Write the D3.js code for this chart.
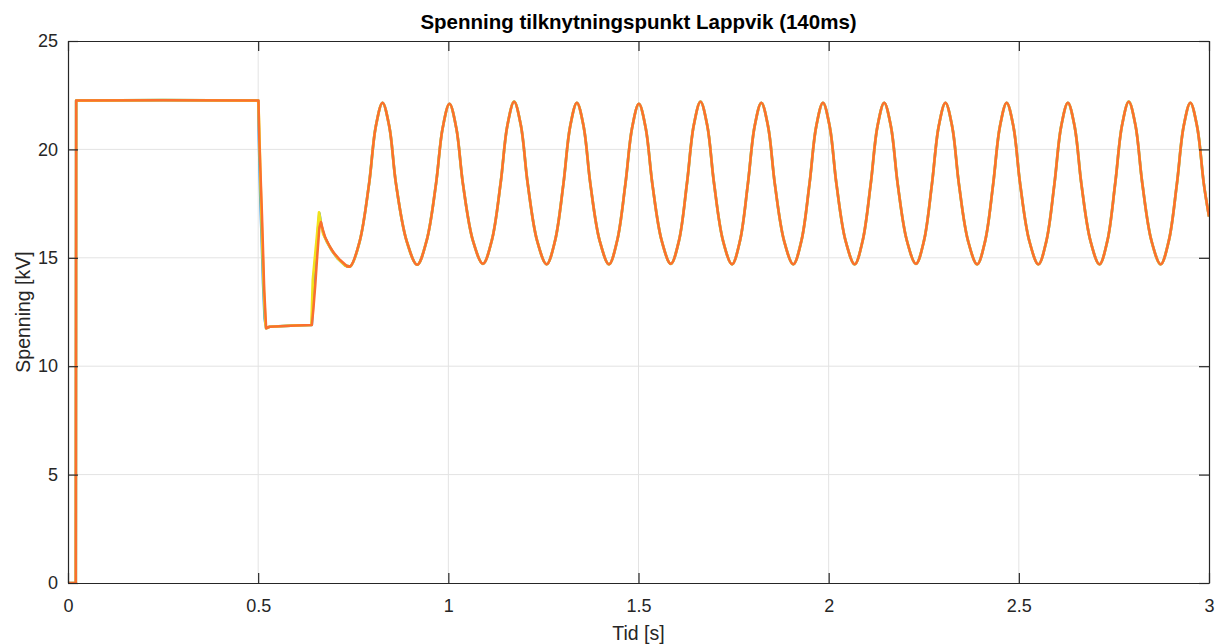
<!DOCTYPE html>
<html>
<head>
<meta charset="utf-8">
<script src="https://cdn.jsdelivr.net/npm/d3@7"></script>
<style>
  body { margin: 0; background: #fff; }
  svg { font-family: "Liberation Sans", Arial, Helvetica, sans-serif; }
</style>
</head>
<body>
<script>
// axis ticks
var xTicks = [0, 0.5, 1, 1.5, 2, 2.5, 3];
var yTicks = [0, 5, 10, 15, 20, 25];
var xTickLabels = ['0', '0.5', '1', '1.5', '2', '2.5', '3'];

// start (shared by all three): off, step on at ~0.021 s, steady until 0.5 s
var startTid = [0, 0.0205, 0.0215, 0.25, 0.5];
var startSpenning = [0, 0, 22.25, 22.27, 22.25];

// fault / recovery transient, one per series
var blueTid = [0.5005, 0.502, 0.506, 0.5105, 0.513, 0.517, 0.521, 0.53, 0.6, 0.641, 0.644, 0.650, 0.656, 0.661, 0.666, 0.672, 0.682, 0.695, 0.71, 0.728, 0.742];
var blueSpenning = [22.1, 20.4, 17.6, 15.2, 13.8, 12.2, 11.75, 11.82, 11.88, 11.9, 12.8, 14.3, 16.0, 17.05, 16.5, 16.1, 15.7, 15.3, 14.95, 14.65, 14.6];

var yellowTid = [0.5005, 0.503, 0.507, 0.511, 0.515, 0.519, 0.521, 0.53, 0.6, 0.640, 0.6437, 0.648, 0.654, 0.660, 0.665, 0.671, 0.682, 0.695, 0.71, 0.728, 0.742];
var yellowSpenning = [22.2, 20.8, 18.0, 15.6, 13.5, 12.0, 11.75, 11.82, 11.88, 11.9, 13.98, 14.8, 15.9, 17.1, 16.6, 16.1, 15.7, 15.3, 14.95, 14.65, 14.6];

var orangeTid = [0.5008, 0.503, 0.510, 0.516, 0.521, 0.53, 0.6, 0.641, 0.645, 0.650, 0.655, 0.661, 0.665, 0.670, 0.676, 0.689, 0.70, 0.7155, 0.733, 0.742];
var orangeSpenning = [22.25, 20.5, 17.0, 13.5, 11.75, 11.82, 11.88, 11.9, 12.6, 13.7, 15.0, 16.4, 16.65, 16.3, 15.95, 15.5, 15.2, 14.9, 14.62, 14.6];

// oscillation after recovery (shared): per cycle rise ... peak ... fall ... trough
var oscTid = [
  0.7668, 0.7915, 0.8092, 0.827, 0.8448, 0.8625, 0.8903, 0.918,
  0.9428, 0.9675, 0.9852, 1.003, 1.0208, 1.0385, 1.0648, 1.091,
  1.1143, 1.1375, 1.1552, 1.173, 1.1908, 1.2085, 1.2335, 1.2585,
  1.2805, 1.3025, 1.3202, 1.338, 1.3558, 1.3735, 1.398, 1.4225,
  1.444, 1.4655, 1.4832, 1.501, 1.5188, 1.5365, 1.5608, 1.585,
  1.6063, 1.6275, 1.6452, 1.663, 1.6808, 1.6985, 1.7223, 1.746,
  1.7668, 1.7875, 1.8052, 1.823, 1.8408, 1.8585, 1.8828, 1.907,
  1.9283, 1.9495, 1.9672, 1.985, 2.0028, 2.0205, 2.0445, 2.0685,
  2.0895, 2.1105, 2.1282, 2.146, 2.1638, 2.1815, 2.2055, 2.2295,
  2.2505, 2.2715, 2.2892, 2.307, 2.3248, 2.3425, 2.3665, 2.3905,
  2.4115, 2.4325, 2.4502, 2.468, 2.4858, 2.5035, 2.5275, 2.5515,
  2.5725, 2.5935, 2.6112, 2.629, 2.6468, 2.6645, 2.6883, 2.712,
  2.7328, 2.7535, 2.7712, 2.789, 2.8068, 2.8245, 2.8488, 2.873,
  2.8943, 2.9155, 2.9332, 2.951, 2.9688, 2.9865, 3.0
];
var oscSpenning = [
  15.75, 18.4, 21.05, 22.15, 21.05, 18.4, 15.78, 14.68,
  15.78, 18.4, 21.0, 22.1, 21.0, 18.4, 15.78, 14.72,
  15.8, 18.45, 21.1, 22.2, 21.1, 18.45, 15.78, 14.7,
  15.78, 18.4, 21.05, 22.15, 21.05, 18.4, 15.78, 14.7,
  15.8, 18.4, 21.0, 22.1, 21.0, 18.4, 15.8, 14.72,
  15.78, 18.45, 21.1, 22.2, 21.1, 18.45, 15.78, 14.7,
  15.78, 18.4, 21.05, 22.15, 21.05, 18.4, 15.78, 14.7,
  15.78, 18.4, 21.05, 22.15, 21.05, 18.4, 15.78, 14.7,
  15.8, 18.4, 21.05, 22.15, 21.05, 18.4, 15.8, 14.72,
  15.78, 18.4, 21.05, 22.15, 21.05, 18.4, 15.78, 14.7,
  15.78, 18.4, 21.05, 22.15, 21.05, 18.4, 15.78, 14.7,
  15.78, 18.4, 21.05, 22.15, 21.05, 18.4, 15.78, 14.7,
  15.78, 18.45, 21.1, 22.2, 21.1, 18.45, 15.78, 14.7,
  15.78, 18.4, 21.05, 22.15, 21.05, 18.4, 16.9
];

var seriesColors = ['#3d9ee0', '#f2e21c', '#fb6f2e'];

var width = 1216, height = 644;
var margin = {top: 41, right: 7, bottom: 61, left: 68};

var svg = d3.select('body').append('svg').attr('width', width).attr('height', height);

var x = d3.scaleLinear().domain([0, 3]).range([margin.left, width - margin.right]);
var y = d3.scaleLinear().domain([0, 25]).range([height - margin.bottom, margin.top]);

function zip(t, v) { return t.map((d, i) => [d, v[i]]); }
var series = [
  [startTid, startSpenning, blueTid, blueSpenning],
  [startTid, startSpenning, yellowTid, yellowSpenning],
  [startTid, startSpenning, orangeTid, orangeSpenning]
];

// grid
svg.append('g').selectAll('line')
  .data(xTicks.slice(1, -1))
  .enter().append('line')
    .attr('x1', d => x(d)).attr('x2', d => x(d))
    .attr('y1', y(0)).attr('y2', y(25))
    .attr('stroke', '#e3e3e3').attr('stroke-width', 1);
svg.append('g').selectAll('line')
  .data(yTicks.slice(1, -1))
  .enter().append('line')
    .attr('x1', x(0)).attr('x2', x(3))
    .attr('y1', d => y(d)).attr('y2', d => y(d))
    .attr('stroke', '#e3e3e3').attr('stroke-width', 1);

// lines
svg.append('clipPath').attr('id', 'clip').append('rect')
  .attr('x', x(0)).attr('y', y(25)).attr('width', x(3) - x(0)).attr('height', y(0) - y(25));

// steps and transients drawn straight, the oscillation smoothed
var lineStraight = d3.line().x(d => x(d[0])).y(d => y(d[1]));
var lineSmooth = d3.line().x(d => x(d[0])).y(d => y(d[1])).curve(d3.curveCatmullRom.alpha(0.5));

var plot = svg.append('g').attr('clip-path', 'url(#clip)');
series.forEach((s, i) => {
  var head = zip(s[0], s[1]).concat(zip(s[2], s[3]));
  var osc = head.slice(-2).concat(zip(oscTid, oscSpenning));
  var sw = i == 2 ? 2.5 : 2.7;
  plot.append('path')
    .attr('d', lineStraight(head))
    .attr('fill', 'none').attr('stroke', seriesColors[i])
    .attr('stroke-width', sw).attr('stroke-linejoin', 'round');
  plot.append('path')
    .attr('d', lineSmooth(osc))
    .attr('fill', 'none').attr('stroke', seriesColors[i])
    .attr('stroke-width', sw).attr('stroke-linejoin', 'round');
});

// axes (box with inward ticks)
var tickLen = 10;
var axisColor = '#262626';
svg.append('g').attr('transform', 'translate(0,' + y(0) + ')')
  .call(d3.axisBottom(x).tickValues(xTicks).tickFormat((d, i) => xTickLabels[i]).tickSizeInner(-tickLen).tickSizeOuter(0).tickPadding(16));
svg.append('g').attr('transform', 'translate(0,' + y(25) + ')')
  .call(d3.axisTop(x).tickValues(xTicks).tickFormat('').tickSizeInner(-tickLen).tickSizeOuter(0));
svg.append('g').attr('transform', 'translate(' + x(0) + ',0)')
  .call(d3.axisLeft(y).tickValues(yTicks).tickSizeInner(-tickLen).tickSizeOuter(0).tickPadding(10));
svg.append('g').attr('transform', 'translate(' + x(3) + ',0)')
  .call(d3.axisRight(y).tickValues(yTicks).tickFormat('').tickSizeInner(-tickLen).tickSizeOuter(0));

svg.selectAll('.domain').attr('stroke', axisColor).attr('stroke-width', 1.2);
svg.selectAll('.tick line').attr('stroke', axisColor).attr('stroke-width', 1.2);
svg.selectAll('.tick text').attr('fill', axisColor).style('font-size', '18px')
  .style('font-family', '"Liberation Sans", Arial, sans-serif');

// titles
svg.append('text')
  .attr('x', (x(0) + x(3)) / 2).attr('y', 29)
  .attr('text-anchor', 'middle')
  .attr('font-weight', 'bold').attr('font-size', '20.5px').attr('fill', '#000')
  .text('Spenning tilknytningspunkt Lappvik (140ms)');

svg.append('text')
  .attr('x', (x(0) + x(3)) / 2).attr('y', 640)
  .attr('text-anchor', 'middle')
  .attr('font-size', '19.5px').attr('fill', axisColor)
  .text('Tid [s]');

svg.append('text')
  .attr('transform', 'translate(29.5,' + (y(0) + y(25)) / 2 + ') rotate(-90)')
  .attr('text-anchor', 'middle')
  .attr('font-size', '19.5px').attr('fill', axisColor)
  .text('Spenning [kV]');
</script>
</body>
</html>
